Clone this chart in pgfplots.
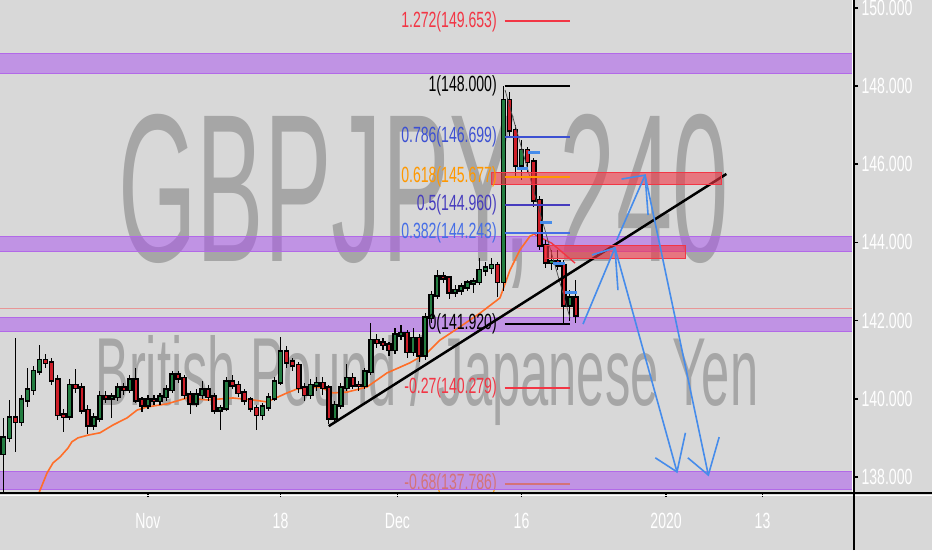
\documentclass[border=0pt]{standalone}
\usepackage{pgfplots}
\pgfplotsset{compat=1.18}
\usepackage{pgfplotstable}
\usepackage{graphicx}
\usepackage{fontspec}
\setmainfont{Liberation Sans}
\newfontfamily\narrow[FakeStretch=0.64]{Liberation Sans}
\definecolor{bg}{RGB}{216,216,216}
\definecolor{wm}{RGB}{166,166,166}
\definecolor{band}{RGB}{170,80,240}
\definecolor{bandedge}{RGB}{178,105,232}
\definecolor{rrect}{RGB}{242,54,69}
\definecolor{cgreen}{RGB}{35,125,65}
\definecolor{cred}{RGB}{205,30,40}
\definecolor{maor}{RGB}{255,110,40}
\definecolor{fibred}{RGB}{242,54,69}
\definecolor{fiborange}{RGB}{255,152,0}
\definecolor{fibblue}{RGB}{60,80,210}
\definecolor{fibblue2}{RGB}{70,110,230}
\definecolor{fibviolet}{RGB}{70,60,190}
\definecolor{arrowblue}{RGB}{70,140,235}
\definecolor{pline}{RGB}{232,150,150}

\pgfplotstableread{
x o h l c
-12.0 138.60 139.50 137.60 139.00
-11.5 139.00 139.97 138.90 139.51
-11.0 139.51 141.55 138.64 139.41
-10.5 139.41 140.10 139.30 139.97
-10.0 139.97 140.80 139.80 140.23
-9.5 140.23 140.85 140.10 140.70
-9.0 140.70 141.38 140.60 140.99
-8.5 140.99 141.15 140.80 140.92
-8.0 140.92 141.05 140.35 140.48
-7.5 140.48 140.60 139.45 139.59
-7.0 139.59 139.75 139.15 139.55
-6.5 139.55 140.50 139.45 140.35
-6.0 140.35 140.75 140.15 140.28
-5.5 140.28 140.40 139.60 139.71
-5.0 139.71 139.85 139.10 139.33
-4.5 139.33 139.65 139.20 139.51
-4.0 139.51 140.20 139.40 140.07
-3.5 140.07 140.20 139.90 140.02
-3.0 140.02 140.15 139.50 140.05
-2.5 140.05 140.40 139.95 140.28
-2.0 140.28 140.40 140.10 140.23
-1.5 140.23 140.62 140.15 140.48
-1.0 140.48 140.79 139.90 139.97
-0.5 139.97 140.05 139.65 139.84
0.0 139.84 140.10 139.75 139.97
0.5 139.97 140.10 139.85 139.95
1.0 139.95 140.15 139.85 140.05
1.5 140.05 140.35 139.95 140.23
2.0 140.23 140.72 140.15 140.61
2.5 140.61 140.70 140.40 140.53
3.0 140.53 140.60 140.00 140.10
3.5 140.10 140.20 139.60 139.89
4.0 139.89 140.25 139.80 140.10
4.5 140.10 140.45 140.00 140.23
5.0 140.23 140.35 139.95 140.05
5.5 140.05 140.15 139.60 139.71
6.0 139.71 139.85 139.20 139.76
6.5 139.76 140.55 139.70 140.43
7.0 140.43 140.61 140.25 140.35
7.5 140.35 140.45 140.05 140.15
8.0 140.15 140.25 139.85 139.97
8.5 139.97 140.05 139.65 139.76
9.0 139.76 139.85 139.20 139.59
9.5 139.59 139.90 139.45 139.79
10.0 139.79 140.15 139.70 140.02
10.5 140.02 140.55 139.95 140.43
11.0 140.43 141.58 140.35 141.20
11.5 141.20 141.35 140.80 140.94
12.0 140.94 141.05 140.70 140.86
12.5 140.86 140.95 140.15 140.28
13.0 140.28 140.40 139.95 140.10
13.5 140.10 140.50 140.00 140.35
14.0 140.35 140.55 140.20 140.40
14.5 140.40 140.55 140.10 140.28
15.0 140.28 140.35 139.36 139.51
15.5 139.51 139.95 139.40 139.84
16.0 139.84 140.40 139.75 140.28
16.5 140.28 140.90 140.20 140.53
17.0 140.53 140.65 140.25 140.35
17.5 140.35 140.45 140.20 140.33
18.0 140.33 140.80 140.25 140.69
18.5 140.69 141.94 140.60 141.50
19.0 141.50 141.65 141.30 141.43
19.5 141.43 141.55 141.25 141.38
20.0 141.38 141.45 141.10 141.25
20.5 141.25 141.80 141.15 141.63
21.0 141.63 141.90 141.50 141.68
21.5 141.68 141.75 141.05 141.20
22.0 141.20 141.80 141.10 141.55
22.5 141.55 141.65 140.95 141.12
23.0 141.12 142.20 141.00 142.07
23.5 142.07 142.75 141.95 142.65
24.0 142.65 143.30 142.55 143.12
24.5 143.12 143.25 142.95 143.09
25.0 143.09 143.15 142.55 142.73
25.5 142.73 142.90 142.60 142.78
26.0 142.78 142.95 142.65 142.86
26.5 142.86 143.05 142.75 142.96
27.0 142.96 143.10 142.70 142.99
27.5 142.99 143.60 142.90 143.29
28.0 143.29 143.50 143.15 143.35
28.5 143.35 143.60 143.20 143.42
29.0 143.42 143.50 142.60 142.99
29.5 142.99 148.00 142.75 147.64
30.0 147.64 147.85 146.70 146.87
30.5 146.87 147.00 145.70 145.98
31.0 145.98 146.62 145.60 146.36
31.5 146.36 146.45 145.80 146.06
32.0 146.06 146.15 144.90 145.08
32.5 145.08 145.20 143.80 143.93
33.0 143.93 144.05 143.35 143.50
33.5 143.50 143.81 143.30 143.52
34.0 143.52 143.81 143.30 143.42
34.5 143.42 143.55 141.92 142.40
35.0 142.40 142.78 142.00 142.58
35.5 142.58 143.04 141.95 142.14
}\candles

\begin{document}
\begin{tikzpicture}
\useasboundingbox (0pt,0pt) rectangle (932pt,550pt);
\fill[bg] (0pt,0pt) rectangle (932pt,550pt);
\node[anchor=base west, inner sep=0pt, text=wm] at (118pt,288pt) {\resizebox{610pt}{147pt}{GBPJPY, 240}};
\node[anchor=base west, inner sep=0pt, text=wm] at (95pt,145pt) {\resizebox{663pt}{70pt}{British Pound / Japanese Yen}};
\begin{axis}[at={(0pt,57pt)}, anchor=south west, width=854pt, height=493pt, scale only axis,
  xmin=-12.28, xmax=58.59, ymin=137.59, ymax=150.2,
  axis line style={draw=none},
  tick align=outside, major tick length=4pt,
  tick style={black, line width=1.5pt},
  xtick={0,11,20.7,31,43,51}, xticklabels={Nov,18,Dec,16,2020,13},
  ytick={138,140,142,144,146,148,150},
  yticklabels={138.000,140.000,142.000,144.000,146.000,148.000,150.000},
  xtick pos=bottom, ytick pos=right, yticklabel pos=right,
  tick label style={text=white, font=\narrow\fontsize{22pt}{22pt}\selectfont},
  xticklabel style={yshift=-13pt},
  clip=true]

% label hidden under band
\node[anchor=east, inner sep=0pt, text=fiborange, font=\narrow\fontsize{22pt}{22pt}\selectfont] at (axis cs:28.96,137.82) {-0.68(137.786)};
\addplot[fiborange, line width=2pt] coordinates {(29.6,137.82) (35.0,137.82)};

% purple bands
\addplot[fill=band, fill opacity=0.5, draw=bandedge, line width=1pt] coordinates {(-13,148.33) (60,148.33) (60,148.82) (-13,148.82)} -- cycle;
\addplot[fill=band, fill opacity=0.5, draw=bandedge, line width=1pt] coordinates {(-13,143.77) (60,143.77) (60,144.14) (-13,144.14)} -- cycle;
\addplot[fill=band, fill opacity=0.5, draw=bandedge, line width=1pt] coordinates {(-13,141.71) (60,141.71) (60,142.09) (-13,142.09)} -- cycle;
\addplot[fill=band, fill opacity=0.5, draw=bandedge, line width=1pt] coordinates {(-13,137.69) (60,137.69) (60,138.15) (-13,138.15)} -- cycle;

% current price line
\addplot[pline, line width=1pt] coordinates {(-13,142.30) (60,142.30)};

% moving average
\addplot[maor, line width=1.6pt] coordinates {
(-9.05,137.59) (-8.38,138.10) (-7.88,138.36) (-7.30,138.51) (-6.64,138.74) (-6.31,138.90)
(-5.81,139.00) (-4.98,139.07) (-3.98,139.13) (-2.90,139.33) (-1.74,139.51) (-0.91,139.71)
(-0.08,139.79) (1.58,139.87) (3.24,140.02) (4.90,139.97) (7.05,140.02) (8.71,139.97)
(9.88,139.92) (11.54,140.15) (12.37,140.25) (14.27,140.30) (15.35,140.15) (16.51,140.17)
(18.17,140.30) (19.83,140.66) (21.74,140.92) (23.15,141.17) (24.23,141.50) (25.89,141.84)
(27.55,142.19) (29.21,142.58) (30.04,143.29) (30.87,143.81) (31.70,144.16) (32.03,144.21)};
\addplot[fibred, line width=1.4pt] coordinates {(32.03,144.21) (33.5,143.98) (35.44,143.47)};

% candles: wicks
\addplot[draw=none, error bars/.cd, y dir=both, y explicit, error mark=none,
  error bar style={draw=black, solid, line width=1.1pt}]
  table[x=x, y expr={(\thisrow{h}+\thisrow{l})/2}, y error expr={(\thisrow{h}-\thisrow{l})/2}] {\candles};
% bodies outline
\addplot[draw=none, error bars/.cd, y dir=both, y explicit, error mark=none,
  error bar style={draw=black, solid, line width=5.8pt}]
  table[x=x, y expr={(\thisrow{o}+\thisrow{c})/2}, y error expr={abs(\thisrow{c}-\thisrow{o})/2+0.04}] {\candles};
% up bodies
\addplot[draw=none, error bars/.cd, y dir=both, y explicit, error mark=none,
  error bar style={draw=cgreen, solid, line width=2.4pt}]
  table[x expr={\thisrow{c}>=\thisrow{o} ? \thisrow{x} : -100}, y expr={(\thisrow{o}+\thisrow{c})/2}, y error expr={abs(\thisrow{c}-\thisrow{o})/2}] {\candles};
% down bodies
\addplot[draw=none, error bars/.cd, y dir=both, y explicit, error mark=none,
  error bar style={draw=cred, solid, line width=2.4pt}]
  table[x expr={\thisrow{c}<\thisrow{o} ? \thisrow{x} : -100}, y expr={(\thisrow{o}+\thisrow{c})/2}, y error expr={abs(\thisrow{c}-\thisrow{o})/2}] {\candles};

% thin diagonal from the peak
\addplot[black!70, line width=0.7pt] coordinates {(29.63,147.90) (35.02,142.07)};

% trend line
\addplot[black, line width=2.5pt] coordinates {(15.0,139.30) (48.0,145.75)};

% red zones
\addplot[fill=rrect, fill opacity=0.6, draw=rrect, line width=1pt] coordinates {(28.5,145.47) (47.6,145.47) (47.6,145.80) (28.5,145.80)} -- cycle;
\addplot[fill=rrect, fill opacity=0.6, draw=rrect, line width=1pt] coordinates {(33.0,143.58) (44.6,143.58) (44.6,143.92) (33.0,143.92)} -- cycle;

% fib levels
\addplot[fibred, line width=2pt] coordinates {(29.6,149.653) (35.0,149.653)};
\addplot[black, line width=2pt] coordinates {(29.6,148.0) (35.0,148.0)};
\addplot[fibblue, line width=2pt] coordinates {(29.6,146.699) (35.0,146.699)};
\addplot[fiborange, line width=2pt] coordinates {(29.6,145.677) (35.0,145.677)};
\addplot[fibviolet, line width=2pt] coordinates {(29.6,144.960) (35.0,144.960)};
\addplot[fibblue2, line width=2pt] coordinates {(29.6,144.243) (35.0,144.243)};
\addplot[black, line width=2pt] coordinates {(29.6,141.920) (35.0,141.920)};
\addplot[fibred, line width=2pt] coordinates {(29.6,140.279) (35.0,140.279)};

\begin{scope}[every node/.style={anchor=east, inner sep=0pt, font=\narrow\fontsize{22pt}{22pt}\selectfont}]
\node[text=fibred] at (axis cs:28.96,149.653) {1.272(149.653)};
\node[text=black] at (axis cs:28.96,148.0) {1(148.000)};
\node[text=fibblue] at (axis cs:28.96,146.699) {0.786(146.699)};
\node[text=fiborange] at (axis cs:28.96,145.677) {0.618(145.677)};
\node[text=fibviolet] at (axis cs:28.96,144.960) {0.5(144.960)};
\node[text=fibblue2] at (axis cs:28.96,144.243) {0.382(144.243)};
\node[text=black] at (axis cs:28.96,141.920) {0(141.920)};
\node[text=fibred] at (axis cs:28.96,140.279) {-0.27(140.279)};
\end{scope}

% small blue markers
\addplot[arrowblue, line width=3pt] coordinates {(31.5,146.29) (32.5,146.29)};
\addplot[arrowblue, line width=3pt] coordinates {(30.6,145.90) (31.5,145.90)};
\addplot[arrowblue, line width=3pt] coordinates {(32.5,144.52) (33.5,144.52)};
\addplot[arrowblue, line width=3pt] coordinates {(33.6,143.45) (34.6,143.45)};
\addplot[arrowblue, line width=3pt] coordinates {(34.6,142.73) (35.6,142.73)};

% projected path arrows
\addplot[arrowblue, line width=1.6pt] coordinates {(36.1,141.91) (38.75,143.86)};
\addplot[arrowblue, line width=1.6pt] coordinates {(36.85,143.68) (38.75,143.86) (39.0,142.78)};
\addplot[arrowblue, line width=1.6pt] coordinates {(38.75,143.86) (43.9,138.13)};
\addplot[arrowblue, line width=1.6pt] coordinates {(42.1,138.49) (43.9,138.13) (44.6,139.13)};
\addplot[arrowblue, line width=1.6pt] coordinates {(38.9,144.06) (41.25,145.72)};
\addplot[arrowblue, line width=1.6pt] coordinates {(39.3,145.62) (41.25,145.72) (41.5,144.70)};
\addplot[arrowblue, line width=1.6pt] coordinates {(41.25,145.72) (46.5,138.05)};
\addplot[arrowblue, line width=1.6pt] coordinates {(44.8,138.49) (46.5,138.05) (47.4,139.02)};
\end{axis}
\draw[white, line width=1pt] (852pt,57pt) -- (852pt,550pt);
\draw[white, line width=1pt] (0pt,55pt) -- (932pt,55pt);
\draw[black, line width=1.5pt] (854pt,0pt) -- (854pt,550pt);
\draw[black, line width=1.5pt] (0pt,57pt) -- (932pt,57pt);
\end{tikzpicture}
\end{document}
